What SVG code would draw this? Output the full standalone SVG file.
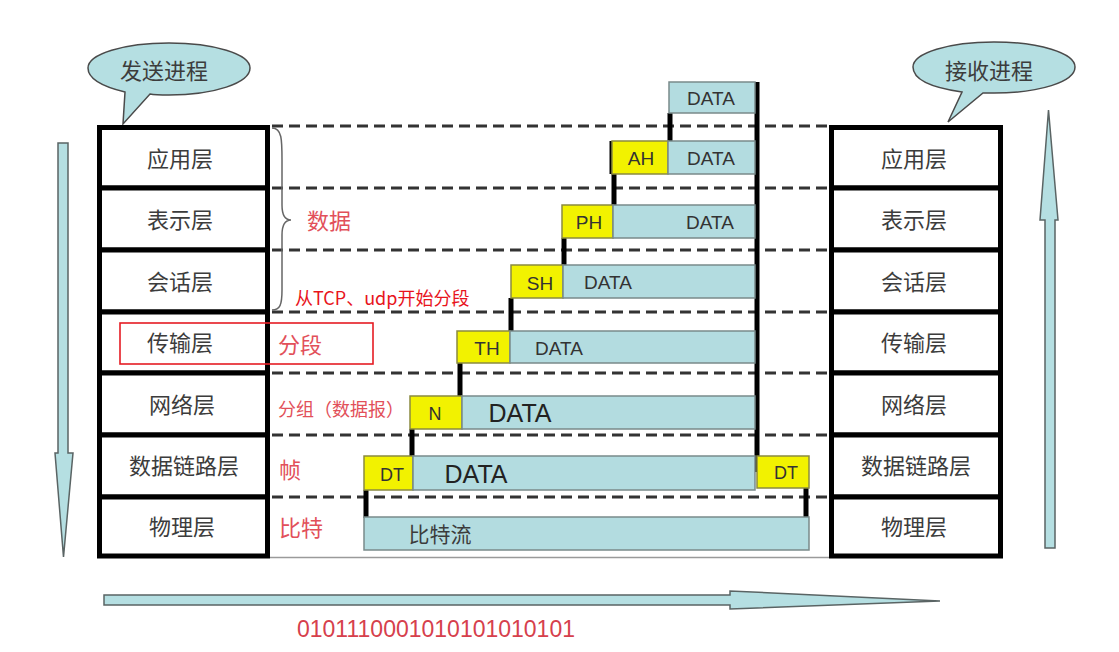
<svg xmlns="http://www.w3.org/2000/svg" width="1119" height="652" viewBox="0 0 1119 652">
<defs>
<style>
.cell{fill:#fff;stroke:#000;stroke-width:5}
.lt{font-family:"Noto Sans CJK SC","Noto Sans",sans-serif;font-size:22px;fill:#3c3c3c;text-anchor:middle}
.bub{fill:#b5dfe2;stroke:#4a4a4a;stroke-width:1.5}
.arr{fill:#b5dfe2;stroke:#5a6464;stroke-width:1.5}
.dash{stroke:#333;stroke-width:3;stroke-dasharray:11 6;fill:none}
.ann{font-family:"Noto Sans CJK SC","Noto Sans",sans-serif;font-size:22px;fill:#e2505a}
.teal{fill:#b3dce0;stroke:#7a8a8a;stroke-width:1.5}
.yel{fill:#f2f200;stroke:#8a8a40;stroke-width:1.5}
.hd{font-family:"Liberation Sans","Noto Sans",sans-serif;font-size:19px;fill:#333;text-anchor:middle}
.hs{font-family:"Liberation Sans","Noto Sans",sans-serif;font-size:18px;fill:#333;text-anchor:middle}
.dt{font-family:"Liberation Sans","Noto Sans",sans-serif;font-size:19px;fill:#333;text-anchor:middle}
.dtb{font-family:"Liberation Sans","Noto Sans",sans-serif;font-size:25px;fill:#222;text-anchor:middle}
.con{stroke:#000;stroke-width:5;fill:none}
</style>
</defs>
<rect width="1119" height="652" fill="#fff"/>

<!-- arrows -->
<g id="arrow-down">
<path class="arr" d="M58 143 H68 V453 H73 L63.5 557 L55 453 H58 Z"/>
</g>
<g id="arrow-up">
<path class="arr" d="M1045 548 V220 H1040 L1048.5 110 L1058 220 H1055 V548 Z"/>
</g>
<g id="arrow-right">
<path class="arr" d="M104 595 H730 V591 L940 601 L730 609 V605 H104 Z"/>
</g>

<!-- bubbles -->
<g id="bubble-send">
<path class="bub" d="M125 92 C100 86 88 78 88 68 C88 54 124 43 169 43 C214 43 250 54 250 68 C250 83 214 95 169 95 C162 95 155 95 150 94 L123 124 Z"/>
<text class="lt" x="164" y="79">发送进程</text>
</g>
<g id="bubble-recv">
<path class="bub" d="M962 92 C934 88 913 80 913 67 C913 53 949 42 994 42 C1039 42 1075 53 1075 67 C1075 82 1039 93 994 93 C990 93 986 93 983 93 L948 122 Z"/>
<text class="lt" x="989" y="79">接收进程</text>
</g>

<!-- dashed level lines and connectors -->
<g id="connectors">
<path class="dash" d="M272 126 H829 M272 188 H829 M272 250 H829 M272 312 H829 M272 373 H829 M272 435 H829 M272 497 H829"/>
<path d="M270 557.5 H829" stroke="#9a9a9a" stroke-width="1.5"/>
<path d="M272 128 C282 128 282 140 282 160 V205 C282 215 285 220 291 220 C285 220 282 225 282 235 V290 C282 305 280 310 272 310" fill="none" stroke="#666" stroke-width="1.5"/>
<path class="con" d="M757 82 V472"/>
<path class="con" d="M670 113 V141"/>
<path class="con" d="M612 141 V174"/>
<path class="con" d="M614 174 V205"/>
<path class="con" d="M564 238 V265"/>
<path class="con" d="M511 298 V331"/>
<path class="con" d="M460 363 V396"/>
<path class="con" d="M412 429 V456"/>
<path class="con" d="M366 490 V518"/>
<path class="con" d="M806 488 V518"/>
</g>

<!-- sender stack -->
<g id="s-app"><rect class="cell" x="99.5" y="127.5" width="168" height="60.5"/><text class="lt" x="180" y="167">应用层</text></g>
<g id="s-pres"><rect class="cell" x="99.5" y="188" width="168" height="62"/><text class="lt" x="180" y="228">表示层</text></g>
<g id="s-sess"><rect class="cell" x="99.5" y="250" width="168" height="62"/><text class="lt" x="180" y="290">会话层</text></g>
<g id="s-trans"><rect class="cell" x="99.5" y="312" width="168" height="61"/><text class="lt" x="180" y="351">传输层</text></g>
<g id="s-net"><rect class="cell" x="99.5" y="373" width="168" height="62"/><text class="lt" x="182" y="413">网络层</text></g>
<g id="s-link"><rect class="cell" x="99.5" y="435" width="168" height="62"/><text class="lt" x="184" y="474">数据链路层</text></g>
<g id="s-phys"><rect class="cell" x="99.5" y="497" width="168" height="59"/><text class="lt" x="182" y="535">物理层</text></g>

<!-- receiver stack -->
<g id="r-app"><rect class="cell" x="831.5" y="127.5" width="169" height="60.5"/><text class="lt" x="914" y="167">应用层</text></g>
<g id="r-pres"><rect class="cell" x="831.5" y="188" width="169" height="62"/><text class="lt" x="914" y="228">表示层</text></g>
<g id="r-sess"><rect class="cell" x="831.5" y="250" width="169" height="62"/><text class="lt" x="914" y="290">会话层</text></g>
<g id="r-trans"><rect class="cell" x="831.5" y="312" width="169" height="61"/><text class="lt" x="914" y="351">传输层</text></g>
<g id="r-net"><rect class="cell" x="831.5" y="373" width="169" height="62"/><text class="lt" x="914" y="413">网络层</text></g>
<g id="r-link"><rect class="cell" x="831.5" y="435" width="169" height="62"/><text class="lt" x="916" y="474">数据链路层</text></g>
<g id="r-phys"><rect class="cell" x="831.5" y="497" width="169" height="59"/><text class="lt" x="914" y="535">物理层</text></g>

<!-- annotations -->
<g id="annotations">
<text class="ann" x="307" y="229">数据</text>
<text x="295" y="305" style="font-family:'Noto Sans CJK SC','Noto Sans',sans-serif;font-size:18px;fill:#e8141c">从TCP、udp开始分段</text>
<rect x="120" y="323" width="253" height="41" fill="none" stroke="#e51c23" stroke-width="1.6"/>
<text class="ann" x="278" y="353">分段</text>
<text class="ann" x="278" y="416" style="font-size:18px">分组（数据报）</text>
<text class="ann" x="279" y="478">帧</text>
<text class="ann" x="279" y="536">比特</text>
<text x="297" y="637" style="font-family:'Liberation Sans',Arial,sans-serif;font-size:23px;fill:#d6404c" textLength="278" lengthAdjust="spacingAndGlyphs">0101110001010101010101</text>
</g>

<!-- packets -->
<g id="pkt-data">
<rect class="teal" x="669" y="82" width="86" height="31"/>
<text class="dt" x="711" y="105">DATA</text>
</g>
<g id="pkt-app">
<rect class="yel" x="612" y="141" width="56" height="33"/>
<text class="hd" x="641" y="165">AH</text>
<rect class="teal" x="668" y="141" width="87" height="33"/>
<text class="dt" x="711" y="165">DATA</text>
</g>
<g id="pkt-pres">
<rect class="yel" x="562" y="205" width="51" height="33"/>
<text class="hd" x="589" y="229">PH</text>
<rect class="teal" x="613" y="205" width="142" height="33"/>
<text class="dt" x="710" y="229">DATA</text>
</g>
<g id="pkt-sess">
<rect class="yel" x="511" y="265" width="52" height="33"/>
<text class="hd" x="540" y="290">SH</text>
<rect class="teal" x="563" y="265" width="192" height="33"/>
<text class="dt" x="608" y="289">DATA</text>
</g>
<g id="pkt-trans">
<rect class="yel" x="457" y="331" width="53" height="32"/>
<text class="hd" x="487" y="355">TH</text>
<rect class="teal" x="510" y="331" width="245" height="32"/>
<text class="dt" x="559" y="355">DATA</text>
</g>
<g id="pkt-net">
<rect class="yel" x="410" y="396" width="52" height="33"/>
<text class="hs" x="435" y="420">N</text>
<rect class="teal" x="462" y="396" width="293" height="33"/>
<text class="dtb" x="520" y="422">DATA</text>
</g>
<g id="pkt-link">
<rect class="yel" x="364" y="456" width="49" height="34"/>
<text class="hs" x="392" y="481">DT</text>
<rect class="teal" x="413" y="456" width="342" height="34"/>
<text class="dtb" x="476" y="483">DATA</text>
<rect class="yel" x="757" y="456" width="52" height="32"/>
<text class="hs" x="786" y="479">DT</text>
</g>
<g id="pkt-phys">
<rect class="teal" x="364" y="517" width="445" height="33"/>
<text class="lt" x="440" y="542" style="font-size:21px">比特流</text>
</g>
</svg>
